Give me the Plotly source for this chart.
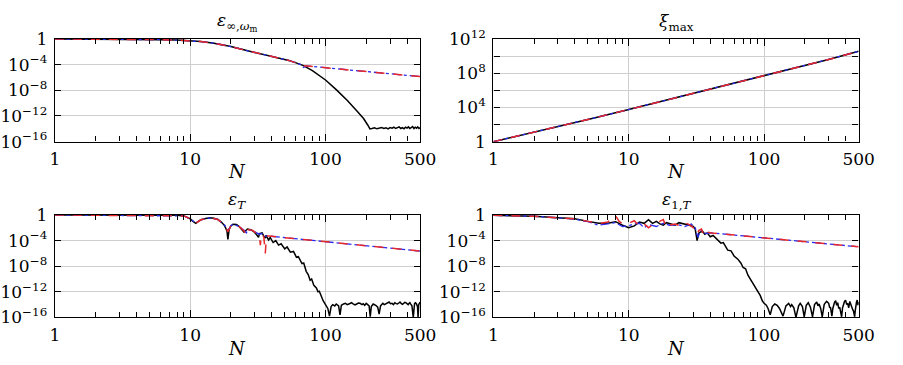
import numpy as np
import plotly.graph_objects as go

# ---------------- data (log10 of the plotted values) -------------
# Panel 1: eps_{inf, omega_m}
p1_exact_N = [1, 2, 3, 4, 6, 8, 10, 12, 15, 20, 27.5, 35, 45, 53.5, 60, 68.7, 80, 100, 120, 145, 170, 191, 205, 213,
              220, 230, 240, 250, 260, 270, 280, 290, 300, 310, 320, 330, 340, 350, 360, 370, 380, 390, 400,
              410, 420, 430, 440, 450, 460, 470, 480, 490, 500]
p1_exact_log = [-0.02, -0.03, -0.05, -0.07, -0.12, -0.19, -0.29, -0.42, -0.68, -1.2, -1.93, -2.45, -2.95, -3.35, -3.7,
                -4.16, -4.95, -6.4, -7.9, -9.6, -11.2, -12.4, -13.4, -14.0,
                -13.95, -13.85, -14.0, -13.9, -13.8, -13.95, -13.85, -14.0, -13.8, -13.9, -13.75, -13.95, -13.85,
                -13.7, -13.95, -13.8, -14.0, -13.75, -13.9, -13.7, -13.95, -13.8, -13.65, -13.95, -13.75, -13.9,
                -13.7, -13.95, -13.8]
p1_approx_N = [1, 2, 3, 4, 6, 8, 10, 12, 15, 20, 27.5, 35, 45, 53.5, 60, 68.7, 100, 150, 200, 300, 400, 500]
p1_approx_log = [-0.02, -0.03, -0.05, -0.07, -0.12, -0.19, -0.29, -0.42, -0.68, -1.2, -1.93, -2.45, -2.95, -3.35,
                 -3.7, -4.16, -4.49, -4.84, -5.09, -5.44, -5.67, -5.87]
p1_blue_N = [1, 2, 3, 4, 6, 8, 10, 12, 15, 20, 27.5, 35, 45, 53.5, 60, 66, 68.7, 72, 100, 150, 200, 300, 400, 500]
p1_blue_log = [-0.02, -0.03, -0.05, -0.07, -0.12, -0.19, -0.29, -0.42, -0.68, -1.2, -1.93, -2.45, -2.95, -3.35,
               -3.7, -4.0, -4.45, -4.2, -4.49, -4.84, -5.09, -5.44, -5.67, -5.87]

# Panel 2: xi_max
p2_N = [1, 2, 3, 5, 10, 20, 30, 50, 100, 200, 300, 500]
p2_log = [0, 1.1, 1.77, 2.6, 3.75, 4.93, 5.62, 6.5, 7.7, 8.9, 9.6, 10.55]

# Panel 3: eps_T
p3_black_N = [1, 3, 5, 7, 8, 9, 10, 10.5, 11, 11.5, 12, 13, 14, 15, 16, 17, 18, 18.7, 19, 19.4, 20, 20.7, 22, 23,
              24, 25, 25.6, 26.5, 28, 29.5, 31, 32, 32.5, 34, 35, 35.9, 36.3, 38, 39, 41, 42.9, 45, 47, 50, 52,
              55, 58, 61, 63, 67, 69, 72, 74.5, 77, 79, 82, 85.6, 88, 90, 93, 96, 100, 104, 107, 110,
              113, 117, 120, 125, 128, 131, 136, 140, 145, 150, 156, 160, 165, 170, 175, 180, 186, 190, 195, 200,
              206, 210, 214, 218, 225, 230, 235, 243, 249, 255, 260, 265, 272, 280, 287, 295, 302, 310, 318,
              325, 333, 340, 348, 355, 362, 370, 378, 385, 392, 400, 408, 415, 420, 425, 435, 445, 450, 455,
              462, 470, 478, 483, 488, 494, 500]
p3_black_log = [0, 0, 0, -0.02, -0.05, -0.15, -0.6, -1.0, -1.3, -1.0, -0.75, -0.55, -0.45, -0.5, -0.7, -1.1, -1.7,
                -2.5, -3.8, -2.3, -1.7, -1.45, -1.5, -1.8, -2.2, -2.7, -2.5, -2.2, -2.3, -2.6, -3.1, -3.5, -2.9,
                -2.8, -3.3, -3.6, -3.2, -3.9, -3.5, -4.3, -4.0, -4.7, -4.5, -5.3, -5.0, -5.8, -5.7, -6.6, -6.5,
                -7.6, -7.5, -8.8, -9.3, -10.2, -10.0, -11.0, -11.4, -12.0, -11.9, -12.8, -13.4, -14.0, -14.6,
                -15.8, -14.3,
                -14.0, -14.2, -13.9, -14.2, -15.6, -14.1, -13.9, -13.8, -14.0, -13.9, -13.7, -13.9, -14.05, -13.9,
                -13.75, -13.8, -14.0, -13.85, -14.1, -13.8, -14.0, -14.2, -15.9, -14.3, -13.9, -14.0, -14.1,
                -14.4, -15.5, -14.2, -13.9, -13.8, -14.0, -13.9, -13.7, -13.6, -13.85, -13.8, -14.0, -13.7,
                -13.85, -13.9, -13.75, -13.6, -13.8, -13.95, -13.8, -13.65, -13.7, -13.9, -14.0, -13.8, -13.7,
                -13.9, -14.2, -16.0, -14.1, -13.8, -13.7, -13.9, -14.3, -16.0, -14.0, -13.8, -13.6, -13.9, -14.3]
p3_red_N = [1, 8, 9, 10, 11, 12, 14, 16, 18, 19, 20, 20.7, 23, 25, 26, 26.8, 29, 31, 32.5, 33, 33.6, 35, 35.9,
            36.6, 38.4, 50, 70, 100, 150, 200, 300, 400, 500]
p3_red_log = [0, -0.05, -0.15, -0.6, -1.3, -0.75, -0.45, -0.7, -1.6, -2.6, -1.7, -1.45, -1.8, -2.5, -3.2, -2.3,
              -2.4, -2.9, -3.2, -4.7, -3.0, -3.4, -6.0, -3.3, -3.3, -3.54, -3.85, -4.17, -4.54, -4.8, -5.17,
              -5.44, -5.64]
p3_blue_N = [1, 8, 9, 10, 11, 12, 14, 16, 18, 19, 20, 20.7, 23, 25, 26, 26.8, 29, 31, 32.5, 34, 36, 38.4, 50, 70,
             100, 150, 200, 300, 400, 500]
p3_blue_log = [0, -0.05, -0.15, -0.6, -1.25, -0.75, -0.45, -0.7, -1.6, -2.4, -1.7, -1.45, -1.8, -2.4, -2.8, -2.3,
               -2.4, -2.8, -3.0, -2.9, -3.3, -3.3, -3.54, -3.85, -4.17, -4.54, -4.8, -5.17, -5.44, -5.64]

# Panel 4: eps_{1,T}
p4_black_N = [1, 2, 3, 4, 5, 6, 7, 8, 9, 10, 11, 12, 13, 14, 15, 16, 17, 18, 19, 20, 22, 23.5, 25, 26.5, 28, 30,
              31, 32, 33, 35, 36.5, 38, 40, 42, 45.6, 48, 50, 53.9, 57, 60, 64, 67.3, 70, 73, 76, 79.4, 83, 86,
              90, 93.8, 97, 100, 104, 107, 111, 115, 120, 125, 130, 134, 138, 142, 145, 152, 157, 160, 166, 172,
              176, 180, 185, 192, 198, 202, 205, 212, 216, 220, 228, 232, 236, 245, 250, 255, 262, 269, 273,
              278, 284, 290, 300, 305, 310, 317, 322, 326, 332, 338, 344, 350, 356, 362, 374, 380, 386, 393,
              400, 408, 415, 422, 430, 437, 445, 452, 458, 467, 472, 476, 482, 488, 494, 500]
p4_black_log = [-0.05, -0.2, -0.45, -0.6, -1.0, -1.3, -1.3, -1.05, -1.6, -2.0, -1.7, -1.1, -1.3, -0.75, -1.3, -1.0,
                -1.4, -1.6, -1.2, -1.3, -1.6, -1.2, -1.3, -1.5, -1.6, -1.8, -2.2, -4.0, -2.8, -2.5, -3.0, -2.8,
                -3.4, -3.2, -4.0, -4.4, -4.3, -5.5, -5.6, -6.4, -6.9, -7.5, -8.2, -8.4, -9.4, -10.1, -10.8,
                -11.3, -12.1, -12.6, -13.4, -13.8, -14.1, -14.6, -15.6, -14.3, -13.9, -14.1, -14.6, -15.2, -15.8,
                -14.9, -14.2, -13.8, -14.3, -14.0, -14.5, -16.0, -15.0, -14.2, -13.8, -14.3, -15.9, -14.8, -14.1,
                -13.7, -14.1, -14.4, -15.9, -15.0, -14.0, -13.6, -14.2, -13.9, -14.6, -15.9, -14.9, -14.0, -13.7,
                -13.5, -13.8, -14.4, -14.5, -15.8, -14.6, -14.1, -13.6, -13.4, -14.1, -13.7, -14.6, -14.4, -15.9,
                -14.5, -14.0, -13.5, -13.3, -14.0, -13.8, -14.5, -13.5, -14.0, -14.2, -14.8, -15.0, -15.9, -14.9,
                -14.0, -13.6, -13.3, -14.1, -13.6]
p4_red_N = [1, 2, 3, 4, 5, 6, 7, 7.5, 8, 8.5, 9, 10, 11, 12, 13, 14, 15, 16, 17, 18, 19, 20, 22, 24, 26, 28, 30,
            32, 33, 34.5, 36, 38, 41, 50, 70, 100, 150, 200, 300, 400, 500]
p4_red_log = [-0.05, -0.2, -0.45, -0.6, -1.0, -1.35, -1.1, -0.6, -0.1, -1.0, -1.4, -1.3, -0.9, -1.8, -1.4, -2.0,
              -1.5, -1.3, -1.0, -0.7, -2.0, -1.6, -1.4, -1.7, -1.2, -1.5, -2.0, -3.0, -2.4, -2.2, -3.3, -2.7,
              -2.8, -2.97, -3.26, -3.57, -3.93, -4.18, -4.53, -4.78, -4.97]
p4_blue_N = [1, 2, 3, 4, 5, 6, 7, 8, 9, 10, 11, 12, 13, 14, 16, 18, 20, 23, 26, 29, 31, 32.5, 34, 37, 41, 50, 70,
             100, 150, 200, 300, 400, 500]
p4_blue_log = [-0.05, -0.2, -0.45, -0.65, -1.05, -1.6, -1.4, -1.2, -1.8, -1.7, -1.4, -1.3, -2.0, -1.5, -1.8,
               -1.3, -1.6, -1.5, -1.8, -1.4, -2.0, -3.5, -2.3, -2.9, -2.8, -2.97, -3.26, -3.57, -3.93, -4.18,
               -4.53, -4.78, -4.97]

# tick labels
x_tickvals = [1, 10, 100, 500]
x_ticktext = ["1", "10", "100", "500"]
x_minor = [2, 3, 4, 5, 6, 7, 8, 9, 20, 30, 40, 50, 60, 70, 80, 90, 200, 300, 400]
err_tickvals = [1, 1e-4, 1e-8, 1e-12, 1e-16]
err_ticktext = ["1", "10<sup>−4</sup>", "10<sup>−8</sup>", "10<sup>−12</sup>", "10<sup>−16</sup>"]
xi_tickvals = [1, 1e4, 1e8, 1e12]
xi_ticktext = ["1", "10<sup>4</sup>", "10<sup>8</sup>", "10<sup>12</sup>"]
xi_minor = [1e2, 1e6, 1e10]
titles = ["<i>ε</i><sub>∞,<i>ω</i><sub>m</sub></sub>", "<i>ξ</i><sub>max</sub>",
          "<i>ε</i><sub><i>T</i></sub>", "<i>ε</i><sub>1,<i>T</i></sub>"]

# ---------------- figure -------------
W, H = 903, 365
FONT = "DejaVu Serif"
BLACK = "#000000"
RED = "#e8272a"
BLUE = "#2a2af0"

fig = go.Figure()


def p(v):
    return 10.0 ** np.array(v, dtype=float)


def add(N, logv, color, dash, width, k):
    ax = "" if k == 1 else str(k)
    fig.add_trace(go.Scatter(x=N, y=p(logv), mode="lines", line=dict(color=color, dash=dash, width=width),
                             xaxis="x" + ax, yaxis="y" + ax, showlegend=False, hoverinfo="skip"))


add(p1_exact_N, p1_exact_log, BLACK, "solid", 1.5, 1)
add(p1_blue_N, p1_blue_log, BLUE, "dashdot", 1.3, 1)
add(p1_approx_N, p1_approx_log, RED, "dash", 1.5, 1)

add(p2_N, p2_log, BLACK, "solid", 1.5, 2)
add(p2_N, p2_log, BLUE, "dashdot", 1.3, 2)
add(p2_N, p2_log, RED, "dash", 1.5, 2)

add(p3_black_N, p3_black_log, BLACK, "solid", 1.5, 3)
add(p3_blue_N, p3_blue_log, BLUE, "dashdot", 1.3, 3)
add(p3_red_N, p3_red_log, RED, "dash", 1.5, 3)

add(p4_black_N, p4_black_log, BLACK, "solid", 1.5, 4)
add(p4_blue_N, p4_blue_log, BLUE, "dashdot", 1.3, 4)
add(p4_red_N, p4_red_log, RED, "dash", 1.5, 4)

xl = [51 / W, 425 / W]
xr = [500 / W, 874 / W]
yt = [1 - 138 / H, 1 - 28.6 / H]
yb = [1 - 325 / H, 1 - 216 / H]

tickfont = dict(family=FONT, size=17, color="black")
GRID = "#cfcfcf"


def xaxis(domain, anchor):
    return dict(domain=domain, anchor=anchor, type="log", range=[0, np.log10(500)],
                tickmode="array", tickvals=x_tickvals, ticktext=x_ticktext,
                ticks="inside", ticklen=7, tickcolor="black", tickwidth=1.2,
                mirror="allticks", showline=True, linecolor="black", linewidth=1.4,
                showgrid=True, gridcolor=GRID, gridwidth=1.2, zeroline=False,
                minor=dict(tickmode="array", tickvals=x_minor, ticks="inside", ticklen=5,
                           tickcolor="black", tickwidth=1.1, showgrid=False),
                tickfont=tickfont, ticklabelstandoff=2)


def yaxis(domain, anchor, rng, tv, tt, minor_vals=None):
    d = dict(domain=domain, anchor=anchor, type="log", range=rng,
             tickmode="array", tickvals=tv, ticktext=tt,
             ticks="inside", ticklen=6, tickcolor="black", tickwidth=1.1,
             mirror="allticks", showline=True, linecolor="black", linewidth=1.4,
             showgrid=True, gridcolor=GRID, gridwidth=1.2, zeroline=False,
             tickfont=tickfont, ticklabelstandoff=3)
    if minor_vals is not None:
        d["minor"] = dict(tickmode="array", tickvals=minor_vals, ticks="inside", ticklen=6,
                          tickcolor="black", tickwidth=1.1, showgrid=True, gridcolor=GRID, gridwidth=1.2)
    return d


fig.update_layout(
    width=W, height=H, margin=dict(l=0, r=0, t=0, b=0),
    paper_bgcolor="white", plot_bgcolor="white",
    font=dict(family=FONT, color="black"),
    xaxis=xaxis(xl, "y"), yaxis=yaxis(yt, "x", [-16, 0], err_tickvals, err_ticktext),
    xaxis2=xaxis(xr, "y2"), yaxis2=yaxis(yt, "x2", [0, 12], xi_tickvals, xi_ticktext, xi_minor),
    xaxis3=xaxis(xl, "y3"), yaxis3=yaxis(yb, "x3", [-16, 0], err_tickvals, err_ticktext),
    xaxis4=xaxis(xr, "y4"), yaxis4=yaxis(yb, "x4", [-16, 0], err_tickvals, err_ticktext),
)

centers = [(xl[0] + xl[1]) / 2, (xr[0] + xr[1]) / 2]
title_y = [1 - 11 / H, 1 - 201 / H]
n_y = [1 - 170 / H, 1 - 358 / H]
k = 0
for r in range(2):
    for c in range(2):
        fig.add_annotation(text=titles[k], x=centers[c], y=title_y[r], xref="paper", yref="paper",
                           showarrow=False, font=dict(family=FONT, size=17, color="black"),
                           xanchor="center", yanchor="middle")
        fig.add_annotation(text="<i>N</i>", x=centers[c], y=n_y[r], xref="paper", yref="paper",
                           showarrow=False, font=dict(family=FONT, size=18, color="black"),
                           xanchor="center", yanchor="middle")
        k += 1

fig.write_html("out.html")
